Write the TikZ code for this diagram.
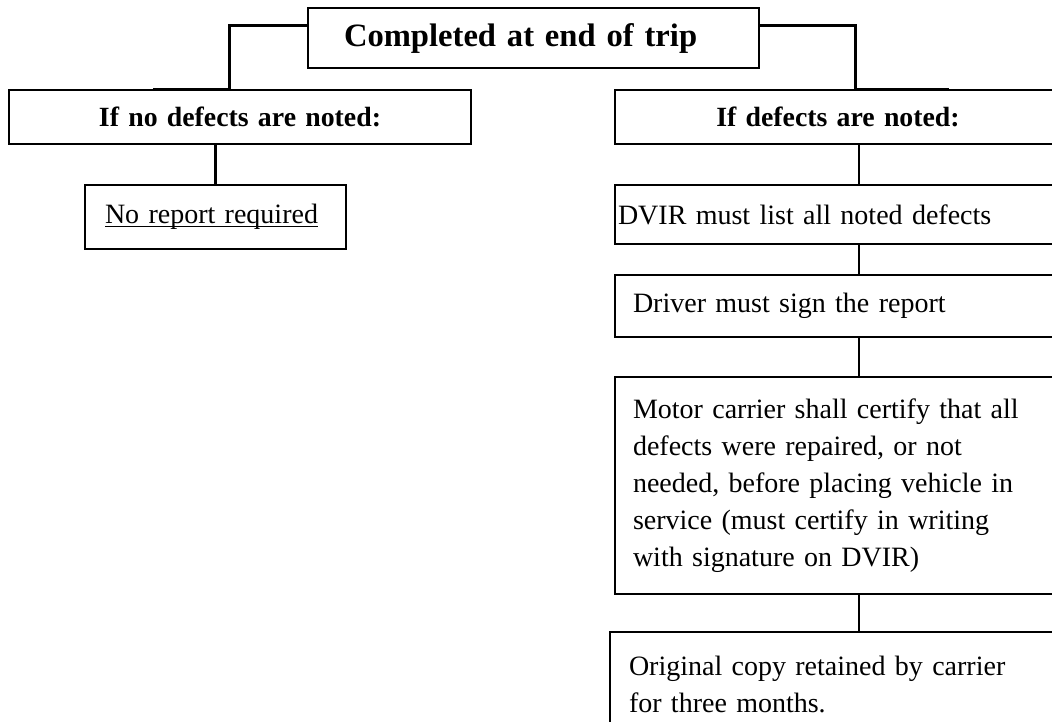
\documentclass[tikz,border=0pt]{standalone}
\usepackage{fontspec}
\setmainfont{Liberation Serif}
\newcommand{\lowline}[1]{{\setbox0\hbox{#1}\rlap{\rule[-3.5pt]{\wd0}{1.5pt}}\box0}}
\begin{document}
\begin{tikzpicture}[x=1pt, y=-1pt,
				box/.style = {draw, line width=2pt, anchor=north west, inner ysep=0pt, font=\fontsize{28}{37}\selectfont},
				head/.style = {box, align=center, font=\bfseries\fontsize{27.8}{35}\selectfont},
				elbow/.style = {line width=3pt},
				link/.style = {line width=2pt}]

				\useasboundingbox (0,0) rectangle (1052,721);
				\clip (0,0) rectangle (1052,721);

				\node[box, align=left, inner xsep=36pt, text width=379pt, minimum height=60pt, font=\bfseries\fontsize{32.6}{40}\selectfont] (top) at (307,7) {Completed at end of trip};

				\node[head, inner xsep=0pt, text width=462pt, minimum height=54pt] (nodef) at (8,89) {If no defects are noted:};
				\node[head, inner xsep=0pt, text width=446pt, minimum height=54pt] (defects) at (614,89) {If defects are noted:};

				\node[box, align=left, inner xsep=20pt, text width=221pt, minimum height=64pt] (noreport) at (84,184) {\lowline{No report required}};

				\node[box, align=left, inner xsep=3pt, text width=440pt, minimum height=59pt] (dvir) at (614,184) {DVIR must list all noted defects};
				\node[box, align=left, inner xsep=18pt, text width=410pt, minimum height=62pt] (driver) at (614,274) {Driver must sign the report};
				\node[box, align=left, inner xsep=18pt, text width=410pt, minimum height=217pt] (motor) at (614,376) {Motor carrier shall certify that all\\ defects were repaired, or not\\ needed, before placing vehicle in\\ service (must certify in writing\\ with signature on DVIR)};
				\node[box, align=left, inner xsep=19pt, text width=418pt, minimum height=104pt] (original) at (609,631) {Original copy retained by carrier\\ for three months.};

				\coordinate (ljoin) at (229,89);
				\coordinate (lend) at (153,89);
				\coordinate (rjoin) at (855,89);
				\coordinate (rend) at (949,89);
				\coordinate (spine) at (859,0);

				\draw[elbow] ([yshift=13pt]top.west) -| (ljoin) -- (lend);
				\draw[elbow] ([yshift=13pt]top.east) -| (rjoin) -- (rend);
				\draw[elbow] (noreport.north |- nodef.south) -- (noreport.north);

				\draw[link] (defects.south -| spine) -- (dvir.north -| spine);
				\draw[link] (dvir.south -| spine) -- (driver.north -| spine);
				\draw[link] (driver.south -| spine) -- (motor.north -| spine);
				\draw[link] (motor.south -| spine) -- (original.north -| spine);

			\end{tikzpicture}
\end{document}
